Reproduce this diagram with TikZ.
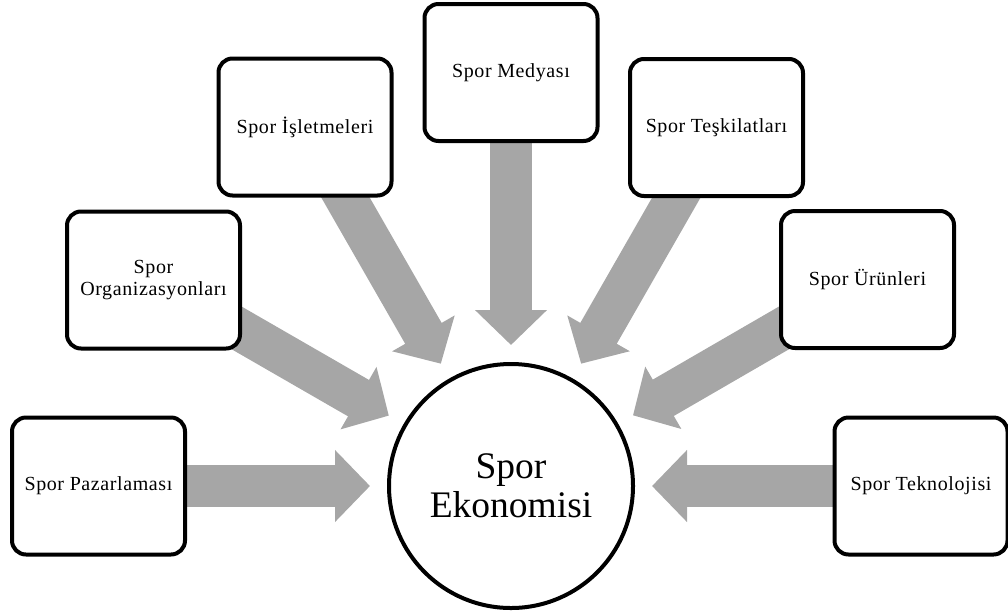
\documentclass[tikz,border=0pt]{standalone}
\usepackage{fontspec}
\setmainfont{Liberation Serif}
\newfontfamily\boxfont[LetterSpace=3]{Liberation Serif}
\usetikzlibrary{arrows.meta,calc,backgrounds}
\definecolor{arrowgray}{HTML}{A6A6A6}
\tikzset{
  box/.style={draw=black, line width=4pt, rounded corners=14pt, fill=white,
    minimum width=173pt, minimum height=137pt, align=center, inner sep=2pt,
    font=\boxfont\fontsize{20}{22}\selectfont},
  hub/.style={circle, draw=black, line width=4pt, fill=white, minimum size=244pt,
    align=center, inner sep=0pt, font=\fontsize{37.5}{39}\selectfont},
  bigarrow/.style={draw=arrowgray, line width=42pt,
    -{Triangle[width=70pt,length=35pt]}}
}
\begin{document}
\begin{tikzpicture}[x=1pt,y=-1pt]
\useasboundingbox (0,0) rectangle (1008,614);
\node[hub] (c) at (511,486) {Spor\\Ekonomisi};
\node[box] (pz) at (98.5,486) {Spor Pazarlaması};
\node[box] (org) at (153.5,280) {Spor\\Organizasyonları};
\node[box] (isl) at (305,127) {Spor İşletmeleri};
\node[box] (med) at (511,72.5) {Spor Medyası};
\node[box] (tes) at (716.5,127.5) {Spor Teşkilatları};
\node[box] (uru) at (867.5,279.5) {Spor Ürünleri};
\node[box] (tek) at (921,486) {Spor Teknolojisi};
\begin{pgfonlayer}{background}
\foreach \n in {pz,org,isl,med,tes,uru,tek}{
  \draw[bigarrow] (\n.center) -- ($(c.center)!141pt!(\n.center)$);
}
\end{pgfonlayer}
\end{tikzpicture}
\end{document}
